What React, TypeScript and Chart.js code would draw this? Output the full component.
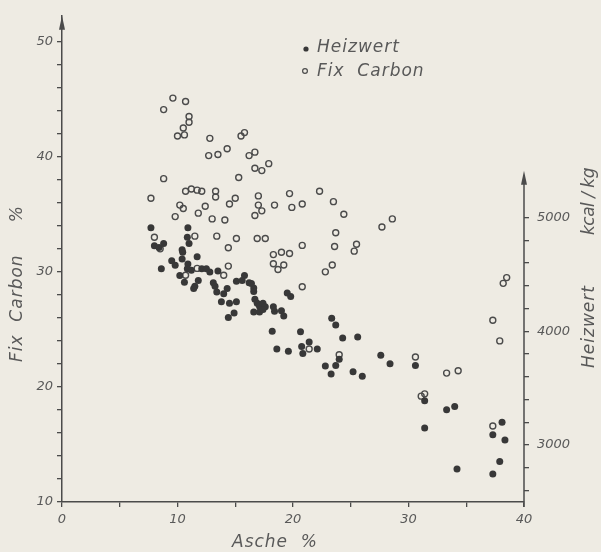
import React, { useEffect, useRef } from 'react';
import { Chart, registerables } from 'chart.js';

Chart.register(...registerables);

// Heizwert (filled dots, right axis, kcal/kg) vs Asche %
const heizAsche = [
  7.7, 8.0, 8.4, 8.8, 10.9, 10.85, 11.0, 10.4, 8.6, 9.5, 9.8, 10.4, 10.45, 11.7, 10.9, 10.85,
  11.2, 10.2, 10.6, 11.8, 11.5, 11.4, 12.1, 12.5, 12.8, 13.5, 13.1, 13.25, 13.4, 14.0, 14.3,
  13.8, 14.5, 15.1, 14.9, 14.4, 15.1, 15.8, 15.6, 16.2, 16.6, 16.6, 16.7, 16.9, 17.1, 17.4,
  17.6, 16.6, 17.1, 17.4, 18.3, 18.4, 19.0, 19.2, 19.5, 19.8, 18.2, 18.6, 19.6, 20.65, 16.4,
  23.35, 23.7, 24.3, 25.6, 20.75, 21.4, 20.85, 22.1, 24.0, 22.8, 23.7, 23.3, 25.2, 26.0, 27.6,
  28.4, 30.6, 31.4, 33.3, 34.0, 31.4, 38.1, 37.3, 38.35, 37.9, 34.2, 37.3,
];
const heizKcal = [
  4910, 4750, 4735, 4770, 4910, 4825, 4770, 4715, 4550, 4620, 4580, 4635, 4695, 4655, 4590, 4550,
  4535, 4490, 4430, 4445, 4395, 4375, 4550, 4550, 4520, 4530, 4425, 4395, 4345, 4330, 4375,
  4260, 4245, 4260, 4160, 4120, 4440, 4490, 4445, 4425, 4380, 4350, 4280, 4245, 4220, 4245,
  4215, 4170, 4170, 4190, 4215, 4175, 4180, 4135, 4335, 4305, 4000, 3845, 3825, 3995, 4420,
  4115, 4055, 3940, 3950, 3865, 3905, 3805, 3845, 3755, 3695, 3700, 3625, 3645, 3605, 3790,
  3715, 3700, 3390, 3310, 3340, 3150, 3200, 3090, 3045, 2855, 2790, 2745,
];

// Fix Carbon (open circles, left axis, %) vs Asche %
const fixAsche = [
  9.6, 10.7, 8.8, 11.0, 11.0, 10.5, 10.0, 10.6, 12.8, 15.5, 15.8, 12.7, 13.5, 14.3, 16.2, 16.7,
  16.7, 17.3, 17.9, 8.8, 15.3, 7.7, 10.7, 11.2, 11.7, 12.1, 13.3, 13.3, 14.5, 15.0, 17.0, 17.0,
  17.3, 16.7, 18.4, 10.2, 10.5, 9.8, 11.8, 12.4, 13.0, 14.1, 8.0, 11.5, 13.4, 15.1, 16.9, 17.6,
  14.4, 19.7, 19.9, 20.8, 22.3, 23.5, 24.4, 27.7, 28.6, 23.7, 20.8, 23.6, 25.5, 25.3, 18.3,
  19.0, 19.7, 18.3, 18.7, 19.2, 23.4, 22.8, 20.8, 21.4, 24.0, 30.6, 33.3, 34.3, 31.1, 31.4,
  37.9, 37.3, 38.5, 38.2, 37.3, 11.7, 10.7, 14.0, 14.4, 8.5,
];
const fixCarbon = [
  45.1, 44.8, 44.1, 43.5, 43.0, 42.5, 41.8, 41.9, 41.6, 41.8, 42.1, 40.1, 40.2, 40.7, 40.1, 40.4,
  39.0, 38.8, 39.4, 38.1, 38.2, 36.4, 37.0, 37.2, 37.1, 37.0, 37.0, 36.5, 35.9, 36.4, 36.6, 35.8,
  35.3, 34.9, 35.8, 35.8, 35.5, 34.8, 35.1, 35.7, 34.6, 34.5, 33.0, 33.1, 33.1, 32.9, 32.9, 32.9,
  32.1, 36.8, 35.6, 35.9, 37.0, 36.1, 35.0, 33.9, 34.6, 33.4, 32.3, 32.2, 32.4, 31.8, 31.5,
  31.7, 31.6, 30.7, 30.2, 30.6, 30.6, 30.0, 28.7, 23.3, 22.8, 22.6, 21.2, 21.4, 19.2, 19.4,
  24.0, 16.6, 29.5, 29.0, 25.8, 30.3, 29.7, 29.7, 30.5, 32.0,
];

// axis tick labels
const xTickLabels = [0, 10, 20, 30, 40];
const leftTickLabels = [10, 20, 30, 40, 50];
const rightTickLabels = [3000, 4000, 5000];

const FONT = "'DejaVu Sans', 'Liberation Sans', sans-serif";
const INK = '#4b4b4b';
const TEXT = '#595959';
const PAPER = '#eeebe3';
const DOT = '#383838';

function rangeTicks(from: number, to: number, step: number) {
  const out: { value: number }[] = [];
  for (let v = from; v <= to + 1e-9; v += step) out.push({ value: v });
  return out;
}

export default function App() {
  const ref = useRef<HTMLCanvasElement>(null);

  useEffect(() => {
    document.body.style.margin = '0';
    document.body.style.background = PAPER;
    const canvas = ref.current;
    if (!canvas) return;

    const tickFont = { family: FONT, size: 13, style: 'italic' as const };

    const arrow = (c: CanvasRenderingContext2D, x: number, tip: number) => {
      c.beginPath();
      c.moveTo(x, tip);
      c.lineTo(x - 3, tip + 14);
      c.lineTo(x + 3, tip + 14);
      c.closePath();
      c.fill();
    };

    const decor = {
      id: 'decor',
      beforeDraw(chart: any) {
        const c = chart.ctx as CanvasRenderingContext2D;
        c.save();
        c.fillStyle = PAPER;
        c.fillRect(0, 0, chart.width, chart.height);
        c.restore();
      },
      afterDraw(chart: any) {
        const c = chart.ctx as CanvasRenderingContext2D;
        const sx = chart.scales.x;
        const sy2 = chart.scales.y2;
        const { top, bottom } = chart.chartArea;
        const left = sx.getPixelForValue(0);
        const right = sx.getPixelForValue(40);
        c.save();
        c.strokeStyle = INK;
        c.fillStyle = INK;
        c.lineWidth = 1.5;
        // left axis arrow
        arrow(c, left, top);
        // right axis line + arrow
        const rTop = sy2.getPixelForValue(5410);
        c.beginPath();
        c.moveTo(right, bottom + 5);
        c.lineTo(right, rTop + 6);
        c.stroke();
        arrow(c, right, rTop);

        // texts
        c.fillStyle = TEXT;
        c.font = `italic 17px ${FONT}`;
        (c as any).letterSpacing = '1px';
        c.textBaseline = 'middle';
        c.textAlign = 'left';
        // x title
        c.fillText('Asche  %', 232, 543);
        // left title
        c.save();
        c.translate(18, 362);
        c.rotate(-Math.PI / 2);
        c.fillText('Fix  Carbon     %', 0, 0);
        c.restore();
        // right title
        c.save();
        c.translate(590, 368);
        c.rotate(-Math.PI / 2);
        c.fillText('Heizwert', 0, 0);
        (c as any).letterSpacing = '-0.5px';
        c.textAlign = 'right';
        c.fillText('kcal / kg', 200, 0);
        c.restore();
        (c as any).letterSpacing = '1px';
        c.textAlign = 'left';

        // legend
        c.fillText('Heizwert', 317, 48);
        c.fillText('Fix  Carbon', 317, 72);
        c.fillStyle = DOT;
        c.beginPath();
        c.arc(306, 49, 2.6, 0, Math.PI * 2);
        c.fill();
        c.strokeStyle = INK;
        c.lineWidth = 1.2;
        c.beginPath();
        c.arc(305, 71, 2.4, 0, Math.PI * 2);
        c.stroke();
        c.restore();
      },
    };

    const chart = new Chart(canvas, {
      type: 'scatter',
      data: {
        datasets: [
          {
            label: 'Heizwert',
            data: heizAsche.map((a, i) => ({ x: a, y: heizKcal[i] })),
            yAxisID: 'y2',
            pointRadius: 3.5,
            pointBackgroundColor: DOT,
            pointBorderColor: DOT,
            pointBorderWidth: 0,
          },
          {
            label: 'Fix Carbon',
            data: fixAsche.map((a, i) => ({ x: a, y: fixCarbon[i] })),
            yAxisID: 'y',
            pointRadius: 3,
            pointBackgroundColor: 'rgba(0,0,0,0)',
            pointBorderColor: INK,
            pointBorderWidth: 1.4,
          },
        ],
      },
      options: {
        responsive: false,
        animation: false,
        devicePixelRatio: 1,
        layout: { padding: { top: 13, left: 0, right: 0, bottom: 0 } },
        plugins: { legend: { display: false }, tooltip: { enabled: false } },
        scales: {
          x: {
            type: 'linear',
            min: 0,
            max: 40,
            afterFit: (s: any) => { s.height = 50; },
            afterBuildTicks: (s: any) => { s.ticks = rangeTicks(0, 40, 5); },
            ticks: {
              autoSkip: false,
              maxRotation: 0,
              padding: 5,
              color: TEXT,
              font: tickFont,
              callback: (v: any) => (xTickLabels.includes(Number(v)) ? String(v) : ''),
            },
            grid: { drawOnChartArea: false, drawTicks: true, tickLength: 5, color: INK, lineWidth: 1.3 },
            border: { display: true, color: INK, width: 1.5 },
          },
          y: {
            type: 'linear',
            position: 'left',
            min: 10,
            max: 52.25,
            afterFit: (s: any) => { s.width = 62; },
            afterBuildTicks: (s: any) => { s.ticks = rangeTicks(10, 50, 2); },
            ticks: {
              autoSkip: false,
              padding: 4,
              color: TEXT,
              font: tickFont,
              callback: (v: any) => (leftTickLabels.includes(Number(v)) ? String(v) : ''),
            },
            grid: { drawOnChartArea: false, drawTicks: true, tickLength: 5, color: INK, lineWidth: 1.3 },
            border: { display: true, color: INK, width: 1.5 },
          },
          y2: {
            type: 'linear',
            position: 'right',
            min: 2500,
            max: 6771,
            afterFit: (s: any) => { s.width = 77; },
            afterBuildTicks: (s: any) => { s.ticks = rangeTicks(2600, 5000, 200); },
            ticks: {
              autoSkip: false,
              padding: 8,
              color: TEXT,
              font: tickFont,
              callback: (v: any) => (rightTickLabels.includes(Number(v)) ? String(v) : ''),
            },
            grid: { drawOnChartArea: false, drawTicks: true, tickLength: 5, color: INK, lineWidth: 1.3 },
            border: { display: false },
          },
        },
      },
      plugins: [decor],
    } as any);

    return () => chart.destroy();
  }, []);

  return (
    <div style={{ position: 'fixed', left: 0, top: 0, width: 601, height: 552, background: PAPER }}>
      <canvas ref={ref} width={601} height={552} style={{ display: 'block' }} />
    </div>
  );
}
